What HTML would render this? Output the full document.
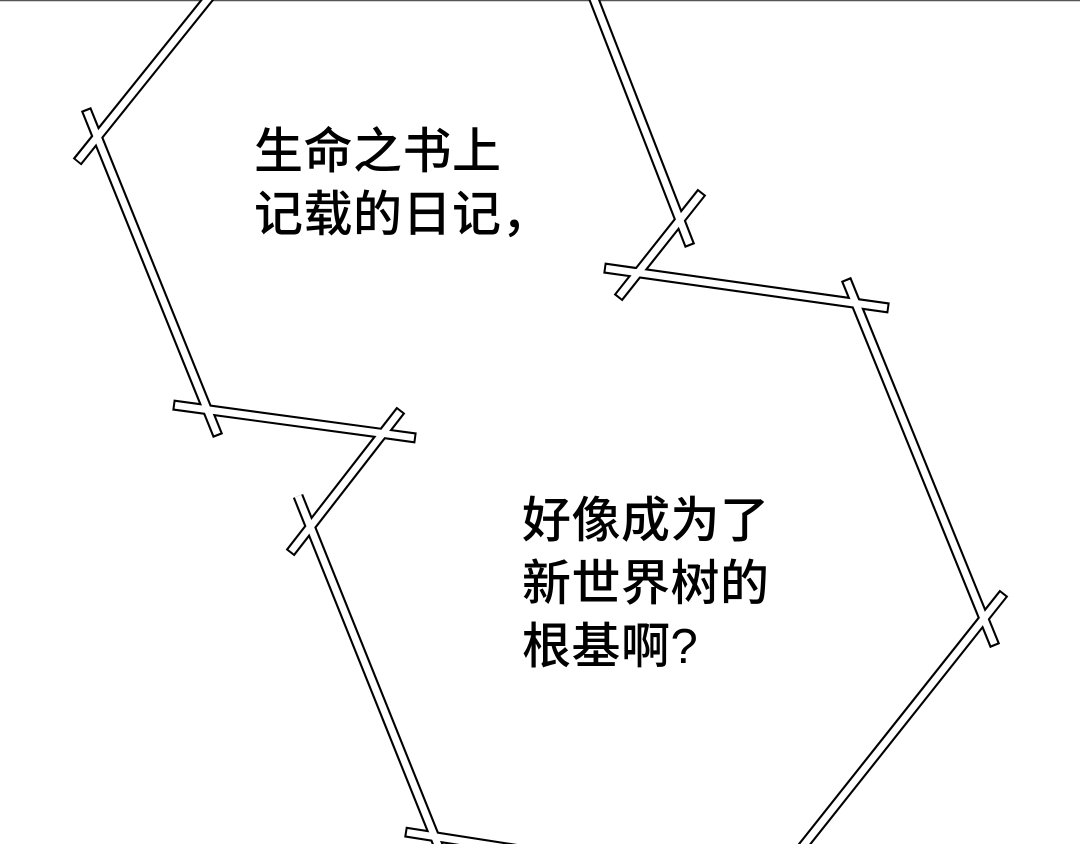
<!DOCTYPE html>
<html><head><meta charset="utf-8"><style>
html,body{margin:0;padding:0;background:#fff;}
body{width:1080px;height:844px;position:relative;overflow:hidden;}
.t{position:absolute;font-family:"Liberation Sans","Noto Sans CJK SC",sans-serif;font-size:49px;font-weight:500;line-height:63px;color:#000;white-space:nowrap;letter-spacing:0.5px;}
svg{position:absolute;left:0;top:0;}
</style></head><body>
<svg width="1080" height="844" viewBox="0 0 1080 844">
<line x1="0" y1="0.5" x2="1080" y2="0.5" stroke="#555" stroke-width="1.5"/>
<g stroke="#000" stroke-width="11" stroke-linecap="butt" fill="none">
<line x1="212" y1="-6" x2="77" y2="162"/>
<line x1="86" y1="109" x2="218" y2="436"/>
<line x1="173" y1="405" x2="416" y2="438"/>
<line x1="401" y1="410" x2="290" y2="553"/>
<line x1="298" y1="496" x2="440" y2="850"/>
<line x1="405" y1="832" x2="520" y2="850"/>
<line x1="592" y1="-6" x2="690" y2="246"/>
<line x1="702" y1="192" x2="618" y2="298"/>
<line x1="604" y1="268" x2="889" y2="308"/>
<line x1="846" y1="279" x2="995" y2="646"/>
<line x1="1004" y1="593" x2="800" y2="850"/>
</g>
<g stroke="#fff" stroke-width="6.8" stroke-linecap="butt" fill="none">
<line x1="212" y1="-6" x2="78.2" y2="160.6"/>
<line x1="86.8" y1="111" x2="217.2" y2="434"/>
<line x1="175" y1="405.3" x2="414" y2="437.7"/>
<line x1="399.8" y1="411.6" x2="291.2" y2="551.4"/>
<line x1="298" y1="496" x2="440" y2="850"/>
<line x1="407" y1="832.3" x2="520" y2="850"/>
<line x1="592" y1="-6" x2="689.2" y2="244"/>
<line x1="700.8" y1="193.6" x2="619.2" y2="296.4"/>
<line x1="606" y1="268.3" x2="887" y2="307.7"/>
<line x1="846.8" y1="281" x2="994.2" y2="644"/>
<line x1="1002.8" y1="594.6" x2="800" y2="850"/>
</g>
</svg>
<div class="t" style="left:254px;top:121px;">生命之书上<br>记载的日记，</div>
<div class="t" style="left:522px;top:490px;">好像成为了<br>新世界树的<br>根基啊?</div>
</body></html>
